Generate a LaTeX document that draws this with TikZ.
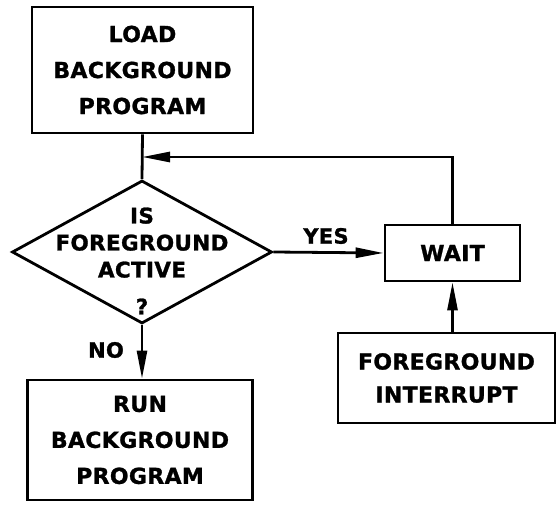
\documentclass[tikz,border=0pt]{standalone}
\usepackage{fontspec}
\newfontfamily\labfont{DejaVu Sans}[LetterSpace=1.5, FakeBold=1.2]
\usetikzlibrary{shapes.geometric,arrows.meta}
\begin{document}
\begin{tikzpicture}[x=1pt,y=-1pt,
  line width=2.8pt,
  boxtext/.style={font=\labfont\bfseries\fontsize{22}{36}\selectfont, align=center},
  flowbox/.style={draw, rectangle, inner sep=0pt, boxtext},
  arr/.style={-{Triangle[length=28pt,width=10pt]}},
  lbl/.style={font=\labfont\bfseries\fontsize{21}{24}\selectfont}
]
\useasboundingbox (0,0) rectangle (558,505);
\node[flowbox, minimum width=221pt, minimum height=126pt] (load) at (142.5,70) {LOAD\\BACKGROUND\\PROGRAM};
\node[draw, diamond, inner sep=0pt, minimum width=260pt, minimum height=143pt] (dec) at (142,252) {};
\node[font=\labfont\bfseries\fontsize{21.5}{27}\selectfont, align=center] (dectext) at (142,261) {IS\\FOREGROUND\\ACTIVE\\[10pt]?};
\node[flowbox, minimum width=225pt, minimum height=120pt] (run) at (140,440) {RUN\\BACKGROUND\\PROGRAM};
\node[flowbox, minimum width=135pt, minimum height=56pt] (wait) at (452.5,253) {WAIT};
\node[flowbox, minimum width=217pt, minimum height=90pt, font=\labfont\bfseries\fontsize{22}{33}\selectfont] (intr) at (446.5,378) {FOREGROUND\\INTERRUPT};
\coordinate (join) at (142,157);
\draw (load.south) -- (dec.north);
\draw[arr] (wait.north) |- (join);
\draw[arr] (dec.east) -- (wait.west);
\draw[arr] (dec.south) -- (dec.south |- run.north);
\draw[arr] (wait.south |- intr.north) -- (wait.south);
\node[lbl] (yes) at (326,236) {YES};
\node[lbl] (no) at (106,350) {NO};
\end{tikzpicture}
\end{document}
